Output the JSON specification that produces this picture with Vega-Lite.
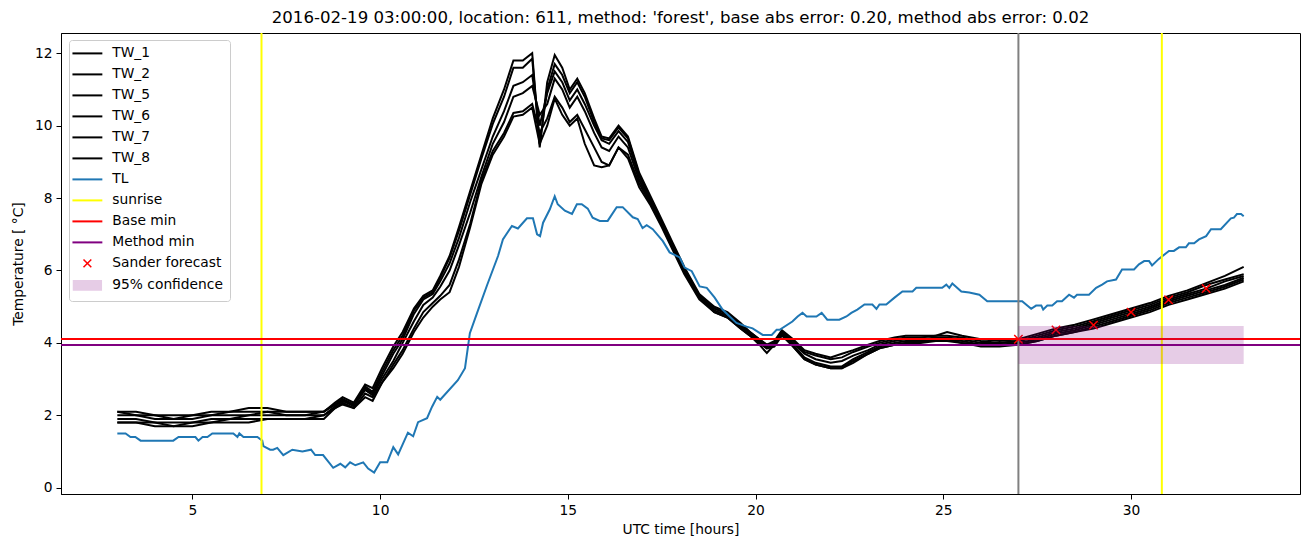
{
  "$schema": "https://vega.github.io/schema/vega-lite/v6.json",
  "autosize": {"type": "none"},
  "padding": {"left": 61, "top": 33, "right": 10, "bottom": 53},
  "width": 1239,
  "height": 461,
  "title": {"text": "2016-02-19 03:00:00, location: 611, method: 'forest', base abs error: 0.20, method abs error: 0.02", "fontSize": 16.6, "fontWeight": "normal", "font": "DejaVu Sans", "color": "black", "offset": 5, "anchor": "middle"},
  "config": {
    "font": "DejaVu Sans",
    "view": {"stroke": "black", "strokeWidth": 1},
    "axis": {"grid": false, "domainColor": "black", "tickColor": "black", "labelColor": "black", "titleColor": "black", "tickSize": 5, "labelFontSize": 13.8, "titleFontSize": 13.8, "titleFontWeight": "normal", "labelPadding": 4, "labelFont": "DejaVu Sans", "titleFont": "DejaVu Sans"}
  },
  "datasets": {
    "tw": [
      {"t": 3.0, "TW_1": 2.1, "TW_2": 2.1, "TW_5": 2.0, "TW_6": 1.9, "TW_7": 1.8, "TW_8": 1.8},
      {"t": 3.5, "TW_1": 2.1, "TW_2": 2.0, "TW_5": 2.0, "TW_6": 1.9, "TW_7": 1.8, "TW_8": 1.8},
      {"t": 4.0, "TW_1": 2.0, "TW_2": 2.0, "TW_5": 1.9, "TW_6": 1.8, "TW_7": 1.8, "TW_8": 1.7},
      {"t": 4.5, "TW_1": 2.0, "TW_2": 1.9, "TW_5": 1.9, "TW_6": 1.8, "TW_7": 1.7, "TW_8": 1.7},
      {"t": 5.0, "TW_1": 2.0, "TW_2": 2.0, "TW_5": 1.9, "TW_6": 1.8, "TW_7": 1.8, "TW_8": 1.7},
      {"t": 5.5, "TW_1": 2.1, "TW_2": 2.0, "TW_5": 2.0, "TW_6": 1.9, "TW_7": 1.8, "TW_8": 1.8},
      {"t": 6.0, "TW_1": 2.1, "TW_2": 2.1, "TW_5": 2.0, "TW_6": 1.9, "TW_7": 1.9, "TW_8": 1.8},
      {"t": 6.5, "TW_1": 2.2, "TW_2": 2.1, "TW_5": 2.0, "TW_6": 2.0, "TW_7": 1.9, "TW_8": 1.8},
      {"t": 7.0, "TW_1": 2.2, "TW_2": 2.1, "TW_5": 2.1, "TW_6": 2.0, "TW_7": 1.9, "TW_8": 1.9},
      {"t": 7.5, "TW_1": 2.1, "TW_2": 2.1, "TW_5": 2.0, "TW_6": 2.0, "TW_7": 1.9, "TW_8": 1.9},
      {"t": 8.0, "TW_1": 2.1, "TW_2": 2.1, "TW_5": 2.0, "TW_6": 2.0, "TW_7": 1.9, "TW_8": 1.9},
      {"t": 8.5, "TW_1": 2.1, "TW_2": 2.1, "TW_5": 2.1, "TW_6": 2.0, "TW_7": 2.0, "TW_8": 1.9},
      {"t": 8.8, "TW_1": 2.35, "TW_2": 2.3, "TW_5": 2.3, "TW_6": 2.25, "TW_7": 2.2, "TW_8": 2.2},
      {"t": 9.0, "TW_1": 2.5, "TW_2": 2.45, "TW_5": 2.4, "TW_6": 2.4, "TW_7": 2.35, "TW_8": 2.3},
      {"t": 9.3, "TW_1": 2.35, "TW_2": 2.3, "TW_5": 2.3, "TW_6": 2.25, "TW_7": 2.2, "TW_8": 2.2},
      {"t": 9.6, "TW_1": 2.85, "TW_2": 2.8, "TW_5": 2.75, "TW_6": 2.7, "TW_7": 2.6, "TW_8": 2.5},
      {"t": 9.8, "TW_1": 2.75, "TW_2": 2.65, "TW_5": 2.6, "TW_6": 2.55, "TW_7": 2.5, "TW_8": 2.4},
      {"t": 10.05, "TW_1": 3.3, "TW_2": 3.2, "TW_5": 3.1, "TW_6": 3.0, "TW_7": 2.9, "TW_8": 2.9},
      {"t": 10.35, "TW_1": 3.9, "TW_2": 3.8, "TW_5": 3.7, "TW_6": 3.5, "TW_7": 3.4, "TW_8": 3.3},
      {"t": 10.6, "TW_1": 4.3, "TW_2": 4.2, "TW_5": 4.1, "TW_6": 4.0, "TW_7": 3.8, "TW_8": 3.7},
      {"t": 10.9, "TW_1": 4.95, "TW_2": 4.9, "TW_5": 4.8, "TW_6": 4.6, "TW_7": 4.4, "TW_8": 4.3},
      {"t": 11.15, "TW_1": 5.3, "TW_2": 5.25, "TW_5": 5.2, "TW_6": 5.05, "TW_7": 4.85, "TW_8": 4.7},
      {"t": 11.4, "TW_1": 5.45, "TW_2": 5.4, "TW_5": 5.35, "TW_6": 5.25, "TW_7": 5.1, "TW_8": 5.0},
      {"t": 11.6, "TW_1": 5.85, "TW_2": 5.8, "TW_5": 5.7, "TW_6": 5.55, "TW_7": 5.3, "TW_8": 5.2},
      {"t": 11.85, "TW_1": 6.4, "TW_2": 6.35, "TW_5": 6.2, "TW_6": 6.0, "TW_7": 5.6, "TW_8": 5.4},
      {"t": 12.1, "TW_1": 7.2, "TW_2": 7.1, "TW_5": 6.9, "TW_6": 6.7, "TW_7": 6.3, "TW_8": 6.1},
      {"t": 12.4, "TW_1": 8.2, "TW_2": 8.1, "TW_5": 7.9, "TW_6": 7.6, "TW_7": 7.3, "TW_8": 7.2},
      {"t": 12.7, "TW_1": 9.2, "TW_2": 9.1, "TW_5": 8.8, "TW_6": 8.6, "TW_7": 8.5, "TW_8": 8.4},
      {"t": 13.0, "TW_1": 10.2, "TW_2": 10.05, "TW_5": 9.7, "TW_6": 9.5, "TW_7": 9.3, "TW_8": 9.2},
      {"t": 13.3, "TW_1": 11.0, "TW_2": 10.8, "TW_5": 10.4, "TW_6": 10.1, "TW_7": 9.8, "TW_8": 9.7},
      {"t": 13.55, "TW_1": 11.8, "TW_2": 11.6, "TW_5": 11.1, "TW_6": 10.8, "TW_7": 10.35, "TW_8": 10.25},
      {"t": 13.8, "TW_1": 11.8, "TW_2": 11.6, "TW_5": 11.2, "TW_6": 10.9, "TW_7": 10.4, "TW_8": 10.3},
      {"t": 14.05, "TW_1": 12.0, "TW_2": 11.85, "TW_5": 11.4, "TW_6": 11.1, "TW_7": 10.6, "TW_8": 10.5},
      {"t": 14.25, "TW_1": 9.4, "TW_2": 9.5, "TW_5": 10.0, "TW_6": 10.3, "TW_7": 9.8, "TW_8": 9.5},
      {"t": 14.45, "TW_1": 11.2, "TW_2": 11.0, "TW_5": 10.9, "TW_6": 10.6, "TW_7": 10.2, "TW_8": 10.0},
      {"t": 14.65, "TW_1": 11.95, "TW_2": 11.7, "TW_5": 11.5, "TW_6": 11.3, "TW_7": 10.8, "TW_8": 10.75},
      {"t": 14.85, "TW_1": 11.6, "TW_2": 11.4, "TW_5": 11.2, "TW_6": 11.0, "TW_7": 10.5, "TW_8": 10.3},
      {"t": 15.05, "TW_1": 11.0, "TW_2": 10.9, "TW_5": 10.7, "TW_6": 10.5, "TW_7": 10.1, "TW_8": 10.0},
      {"t": 15.25, "TW_1": 11.3, "TW_2": 11.2, "TW_5": 11.0, "TW_6": 10.8, "TW_7": 10.3, "TW_8": 10.2},
      {"t": 15.45, "TW_1": 10.9, "TW_2": 10.8, "TW_5": 10.6, "TW_6": 10.4, "TW_7": 9.9, "TW_8": 9.5},
      {"t": 15.7, "TW_1": 10.2, "TW_2": 10.1, "TW_5": 10.0, "TW_6": 9.8, "TW_7": 9.4, "TW_8": 8.9},
      {"t": 15.9, "TW_1": 9.7, "TW_2": 9.65, "TW_5": 9.6, "TW_6": 9.4, "TW_7": 9.0, "TW_8": 8.85},
      {"t": 16.1, "TW_1": 9.65, "TW_2": 9.6, "TW_5": 9.5, "TW_6": 9.3, "TW_7": 8.9, "TW_8": 8.9},
      {"t": 16.35, "TW_1": 10.0, "TW_2": 9.95, "TW_5": 9.85, "TW_6": 9.7, "TW_7": 9.4, "TW_8": 9.4},
      {"t": 16.6, "TW_1": 9.7, "TW_2": 9.65, "TW_5": 9.55, "TW_6": 9.4, "TW_7": 9.2, "TW_8": 9.1},
      {"t": 16.9, "TW_1": 8.7, "TW_2": 8.65, "TW_5": 8.6, "TW_6": 8.5, "TW_7": 8.4, "TW_8": 8.3},
      {"t": 17.2, "TW_1": 8.05, "TW_2": 8.0, "TW_5": 7.95, "TW_6": 7.9, "TW_7": 7.85, "TW_8": 7.8},
      {"t": 17.5, "TW_1": 7.4, "TW_2": 7.35, "TW_5": 7.3, "TW_6": 7.3, "TW_7": 7.25, "TW_8": 7.2},
      {"t": 17.8, "TW_1": 6.75, "TW_2": 6.7, "TW_5": 6.65, "TW_6": 6.65, "TW_7": 6.6, "TW_8": 6.55},
      {"t": 18.1, "TW_1": 6.1, "TW_2": 6.05, "TW_5": 6.05, "TW_6": 6.0, "TW_7": 5.95, "TW_8": 5.9},
      {"t": 18.5, "TW_1": 5.35, "TW_2": 5.3, "TW_5": 5.3, "TW_6": 5.25, "TW_7": 5.25, "TW_8": 5.2},
      {"t": 18.9, "TW_1": 5.0, "TW_2": 4.95, "TW_5": 4.95, "TW_6": 4.9, "TW_7": 4.85, "TW_8": 4.85},
      {"t": 19.25, "TW_1": 4.85, "TW_2": 4.8, "TW_5": 4.8, "TW_6": 4.75, "TW_7": 4.7, "TW_8": 4.7},
      {"t": 19.6, "TW_1": 4.55, "TW_2": 4.5, "TW_5": 4.5, "TW_6": 4.45, "TW_7": 4.4, "TW_8": 4.4},
      {"t": 19.85, "TW_1": 4.3, "TW_2": 4.3, "TW_5": 4.25, "TW_6": 4.25, "TW_7": 4.2, "TW_8": 4.2},
      {"t": 20.1, "TW_1": 4.1, "TW_2": 4.1, "TW_5": 4.05, "TW_6": 4.0, "TW_7": 4.0, "TW_8": 3.95},
      {"t": 20.3, "TW_1": 3.95, "TW_2": 3.95, "TW_5": 3.9, "TW_6": 3.85, "TW_7": 3.85, "TW_8": 3.72},
      {"t": 20.5, "TW_1": 4.05, "TW_2": 4.0, "TW_5": 4.0, "TW_6": 3.95, "TW_7": 3.9, "TW_8": 3.95},
      {"t": 20.7, "TW_1": 4.35, "TW_2": 4.3, "TW_5": 4.3, "TW_6": 4.25, "TW_7": 4.2, "TW_8": 4.3},
      {"t": 21.0, "TW_1": 4.1, "TW_2": 4.05, "TW_5": 4.0, "TW_6": 3.95, "TW_7": 3.9, "TW_8": 3.9},
      {"t": 21.3, "TW_1": 3.8, "TW_2": 3.75, "TW_5": 3.7, "TW_6": 3.6, "TW_7": 3.55, "TW_8": 3.55},
      {"t": 21.6, "TW_1": 3.7, "TW_2": 3.65, "TW_5": 3.55, "TW_6": 3.45, "TW_7": 3.4, "TW_8": 3.4},
      {"t": 22.0, "TW_1": 3.6, "TW_2": 3.55, "TW_5": 3.45, "TW_6": 3.35, "TW_7": 3.3, "TW_8": 3.3},
      {"t": 22.3, "TW_1": 3.7, "TW_2": 3.6, "TW_5": 3.5, "TW_6": 3.35, "TW_7": 3.3, "TW_8": 3.3},
      {"t": 22.6, "TW_1": 3.8, "TW_2": 3.75, "TW_5": 3.65, "TW_6": 3.55, "TW_7": 3.5, "TW_8": 3.45},
      {"t": 23.0, "TW_1": 3.95, "TW_2": 3.9, "TW_5": 3.8, "TW_6": 3.75, "TW_7": 3.7, "TW_8": 3.7},
      {"t": 23.3, "TW_1": 4.05, "TW_2": 4.0, "TW_5": 3.95, "TW_6": 3.9, "TW_7": 3.85, "TW_8": 3.85},
      {"t": 23.7, "TW_1": 4.15, "TW_2": 4.1, "TW_5": 4.05, "TW_6": 4.0, "TW_7": 3.95, "TW_8": 3.95},
      {"t": 24.0, "TW_1": 4.2, "TW_2": 4.15, "TW_5": 4.1, "TW_6": 4.05, "TW_7": 4.0, "TW_8": 4.0},
      {"t": 24.4, "TW_1": 4.2, "TW_2": 4.15, "TW_5": 4.1, "TW_6": 4.05, "TW_7": 4.05, "TW_8": 4.0},
      {"t": 24.8, "TW_1": 4.2, "TW_2": 4.2, "TW_5": 4.15, "TW_6": 4.1, "TW_7": 4.05, "TW_8": 4.05},
      {"t": 25.1, "TW_1": 4.3, "TW_2": 4.2, "TW_5": 4.15, "TW_6": 4.1, "TW_7": 4.1, "TW_8": 4.05},
      {"t": 25.5, "TW_1": 4.2, "TW_2": 4.15, "TW_5": 4.1, "TW_6": 4.05, "TW_7": 4.0, "TW_8": 4.0},
      {"t": 26.0, "TW_1": 4.1, "TW_2": 4.05, "TW_5": 4.0, "TW_6": 3.95, "TW_7": 3.95, "TW_8": 3.9},
      {"t": 26.5, "TW_1": 4.05, "TW_2": 4.0, "TW_5": 4.0, "TW_6": 3.95, "TW_7": 3.95, "TW_8": 3.9},
      {"t": 27.0, "TW_1": 4.1, "TW_2": 4.05, "TW_5": 4.05, "TW_6": 4.0, "TW_7": 3.95, "TW_8": 3.95},
      {"t": 27.5, "TW_1": 4.25, "TW_2": 4.2, "TW_5": 4.15, "TW_6": 4.1, "TW_7": 4.05, "TW_8": 4.05},
      {"t": 28.0, "TW_1": 4.4, "TW_2": 4.35, "TW_5": 4.3, "TW_6": 4.25, "TW_7": 4.2, "TW_8": 4.2},
      {"t": 28.5, "TW_1": 4.5, "TW_2": 4.45, "TW_5": 4.4, "TW_6": 4.35, "TW_7": 4.3, "TW_8": 4.3},
      {"t": 29.0, "TW_1": 4.65, "TW_2": 4.6, "TW_5": 4.55, "TW_6": 4.5, "TW_7": 4.45, "TW_8": 4.4},
      {"t": 29.5, "TW_1": 4.8, "TW_2": 4.75, "TW_5": 4.7, "TW_6": 4.65, "TW_7": 4.6, "TW_8": 4.55},
      {"t": 30.0, "TW_1": 4.95, "TW_2": 4.9, "TW_5": 4.85, "TW_6": 4.8, "TW_7": 4.75, "TW_8": 4.7},
      {"t": 30.5, "TW_1": 5.1, "TW_2": 5.05, "TW_5": 5.0, "TW_6": 4.95, "TW_7": 4.9, "TW_8": 4.85},
      {"t": 31.0, "TW_1": 5.3, "TW_2": 5.25, "TW_5": 5.2, "TW_6": 5.15, "TW_7": 5.1, "TW_8": 5.05},
      {"t": 31.5, "TW_1": 5.45, "TW_2": 5.4, "TW_5": 5.35, "TW_6": 5.3, "TW_7": 5.25, "TW_8": 5.2},
      {"t": 32.0, "TW_1": 5.65, "TW_2": 5.6, "TW_5": 5.5, "TW_6": 5.45, "TW_7": 5.4, "TW_8": 5.35},
      {"t": 32.5, "TW_1": 5.85, "TW_2": 5.75, "TW_5": 5.7, "TW_6": 5.6, "TW_7": 5.55, "TW_8": 5.5},
      {"t": 33.0, "TW_1": 6.1, "TW_2": 5.9, "TW_5": 5.85, "TW_6": 5.8, "TW_7": 5.75, "TW_8": 5.7}
    ],
    "tl": [
      {"t": 3.0, "temp": 1.5}, {"t": 3.22, "temp": 1.5}, {"t": 3.35, "temp": 1.4}, {"t": 3.48, "temp": 1.4}, {"t": 3.62, "temp": 1.3},
      {"t": 4.49, "temp": 1.3}, {"t": 4.63, "temp": 1.4}, {"t": 5.08, "temp": 1.4}, {"t": 5.16, "temp": 1.3}, {"t": 5.27, "temp": 1.4},
      {"t": 5.4, "temp": 1.4}, {"t": 5.53, "temp": 1.5}, {"t": 6.09, "temp": 1.5}, {"t": 6.2, "temp": 1.4}, {"t": 6.25, "temp": 1.5},
      {"t": 6.36, "temp": 1.4}, {"t": 6.73, "temp": 1.4}, {"t": 6.86, "temp": 1.3}, {"t": 6.89, "temp": 1.15}, {"t": 7.07, "temp": 1.05},
      {"t": 7.15, "temp": 1.05}, {"t": 7.26, "temp": 1.1}, {"t": 7.42, "temp": 0.9}, {"t": 7.66, "temp": 1.05}, {"t": 7.93, "temp": 1.0},
      {"t": 8.16, "temp": 1.05}, {"t": 8.27, "temp": 0.9}, {"t": 8.48, "temp": 0.9}, {"t": 8.75, "temp": 0.55}, {"t": 8.94, "temp": 0.66},
      {"t": 9.07, "temp": 0.56}, {"t": 9.2, "temp": 0.7}, {"t": 9.34, "temp": 0.62}, {"t": 9.55, "temp": 0.7}, {"t": 9.68, "temp": 0.53},
      {"t": 9.84, "temp": 0.42}, {"t": 10.0, "temp": 0.7}, {"t": 10.19, "temp": 0.7}, {"t": 10.35, "temp": 1.12}, {"t": 10.48, "temp": 0.92},
      {"t": 10.74, "temp": 1.52}, {"t": 10.88, "temp": 1.42}, {"t": 11.01, "temp": 1.81}, {"t": 11.25, "temp": 1.92}, {"t": 11.38, "temp": 2.23},
      {"t": 11.52, "temp": 2.51}, {"t": 11.6, "temp": 2.43}, {"t": 12.07, "temp": 2.97}, {"t": 12.26, "temp": 3.3}, {"t": 12.39, "temp": 4.27},
      {"t": 12.58, "temp": 4.82}, {"t": 12.85, "temp": 5.6}, {"t": 13.14, "temp": 6.4}, {"t": 13.27, "temp": 6.86}, {"t": 13.51, "temp": 7.23},
      {"t": 13.67, "temp": 7.16}, {"t": 13.91, "temp": 7.44}, {"t": 14.07, "temp": 7.44}, {"t": 14.18, "temp": 7.0}, {"t": 14.26, "temp": 6.95},
      {"t": 14.34, "temp": 7.32}, {"t": 14.52, "temp": 7.69}, {"t": 14.65, "temp": 8.05}, {"t": 14.73, "temp": 7.83}, {"t": 14.92, "temp": 7.65},
      {"t": 15.11, "temp": 7.56}, {"t": 15.24, "temp": 7.83}, {"t": 15.37, "temp": 7.83}, {"t": 15.53, "temp": 7.71}, {"t": 15.66, "temp": 7.46},
      {"t": 15.85, "temp": 7.37}, {"t": 16.06, "temp": 7.37}, {"t": 16.3, "temp": 7.75}, {"t": 16.46, "temp": 7.75}, {"t": 16.73, "temp": 7.47},
      {"t": 16.86, "temp": 7.42}, {"t": 16.99, "temp": 7.17}, {"t": 17.1, "temp": 7.25}, {"t": 17.26, "temp": 7.14}, {"t": 17.53, "temp": 6.81},
      {"t": 17.71, "temp": 6.5}, {"t": 17.98, "temp": 6.36}, {"t": 18.11, "temp": 6.08}, {"t": 18.3, "temp": 5.98}, {"t": 18.51, "temp": 5.56},
      {"t": 18.7, "temp": 5.52}, {"t": 18.91, "temp": 5.25}, {"t": 19.12, "temp": 4.92}, {"t": 19.31, "temp": 4.73}, {"t": 19.49, "temp": 4.55},
      {"t": 19.76, "temp": 4.45}, {"t": 19.92, "temp": 4.4}, {"t": 20.19, "temp": 4.22}, {"t": 20.43, "temp": 4.22}, {"t": 20.56, "temp": 4.36},
      {"t": 20.64, "temp": 4.36}, {"t": 20.98, "temp": 4.59}, {"t": 21.12, "temp": 4.73}, {"t": 21.25, "temp": 4.83}, {"t": 21.36, "temp": 4.73},
      {"t": 21.62, "temp": 4.73}, {"t": 21.76, "temp": 4.83}, {"t": 21.91, "temp": 4.64}, {"t": 22.23, "temp": 4.64}, {"t": 22.42, "temp": 4.73},
      {"t": 22.55, "temp": 4.83}, {"t": 22.71, "temp": 4.92}, {"t": 22.9, "temp": 5.06}, {"t": 23.11, "temp": 5.06}, {"t": 23.22, "temp": 4.94},
      {"t": 23.3, "temp": 5.06}, {"t": 23.48, "temp": 5.06}, {"t": 23.7, "temp": 5.25}, {"t": 23.91, "temp": 5.42}, {"t": 24.18, "temp": 5.42},
      {"t": 24.28, "temp": 5.52}, {"t": 24.97, "temp": 5.52}, {"t": 25.08, "temp": 5.61}, {"t": 25.16, "temp": 5.52}, {"t": 25.24, "temp": 5.64},
      {"t": 25.48, "temp": 5.42}, {"t": 25.69, "temp": 5.39}, {"t": 25.96, "temp": 5.33}, {"t": 26.17, "temp": 5.15}, {"t": 27.1, "temp": 5.15},
      {"t": 27.34, "temp": 4.94}, {"t": 27.47, "temp": 5.03}, {"t": 27.61, "temp": 5.03}, {"t": 27.66, "temp": 4.92}, {"t": 27.77, "temp": 5.03},
      {"t": 27.9, "temp": 5.03}, {"t": 28.03, "temp": 5.15}, {"t": 28.16, "temp": 5.15}, {"t": 28.35, "temp": 5.33}, {"t": 28.48, "temp": 5.25},
      {"t": 28.56, "temp": 5.33}, {"t": 28.88, "temp": 5.33}, {"t": 29.07, "temp": 5.52}, {"t": 29.23, "temp": 5.61}, {"t": 29.36, "temp": 5.7},
      {"t": 29.6, "temp": 5.75}, {"t": 29.76, "temp": 6.03}, {"t": 30.08, "temp": 6.03}, {"t": 30.21, "temp": 6.17}, {"t": 30.35, "temp": 6.26},
      {"t": 30.48, "temp": 6.26}, {"t": 30.56, "temp": 6.14}, {"t": 30.74, "temp": 6.32}, {"t": 31.01, "temp": 6.54}, {"t": 31.14, "temp": 6.54},
      {"t": 31.28, "temp": 6.64}, {"t": 31.46, "temp": 6.64}, {"t": 31.54, "temp": 6.75}, {"t": 31.68, "temp": 6.75}, {"t": 31.81, "temp": 6.86},
      {"t": 32.0, "temp": 6.95}, {"t": 32.13, "temp": 7.14}, {"t": 32.39, "temp": 7.14}, {"t": 32.66, "temp": 7.44}, {"t": 32.74, "temp": 7.46},
      {"t": 32.82, "temp": 7.56}, {"t": 32.93, "temp": 7.56}, {"t": 33.0, "temp": 7.5}
    ],
    "sunrise": [{"t": 6.84, "series": "sunrise"}, {"t": 30.82, "series": "sunrise"}],
    "mins": [{"temp": 4.11, "series": "Base min"}, {"temp": 3.94, "series": "Method min"}],
    "now": [{"t": 27.0}],
    "sander": [
      {"t": 27.0, "temp": 4.1, "series": "Sander forecast"},
      {"t": 28.0, "temp": 4.36, "series": "Sander forecast"},
      {"t": 29.0, "temp": 4.49, "series": "Sander forecast"},
      {"t": 30.0, "temp": 4.85, "series": "Sander forecast"},
      {"t": 31.0, "temp": 5.19, "series": "Sander forecast"},
      {"t": 32.0, "temp": 5.5, "series": "Sander forecast"}
    ],
    "conf": [{"t": 27.0, "t2": 33.0, "lo": 3.42, "hi": 4.47}]
  },
  "layer": [
    {
      "data": {"name": "tw"},
      "transform": [{"fold": ["TW_1", "TW_2", "TW_5", "TW_6", "TW_7", "TW_8"], "as": ["series", "temp"]}],
      "mark": {"type": "line", "strokeWidth": 2, "clip": true},
      "encoding": {
        "x": {"field": "t", "type": "quantitative", "scale": {"domain": [1.5, 34.5], "nice": false, "zero": false}, "axis": {"values": [5, 10, 15, 20, 25, 30], "title": "UTC time [hours]", "titlePadding": 6}},
        "y": {"field": "temp", "type": "quantitative", "scale": {"domain": [-0.174, 12.56], "nice": false, "zero": false}, "axis": {"values": [0, 2, 4, 6, 8, 10, 12], "title": "Temperature [ °C]", "titlePadding": 9}},
        "detail": {"field": "series"},
        "color": {
          "field": "series", "type": "nominal",
          "scale": {
            "domain": ["TW_1", "TW_2", "TW_5", "TW_6", "TW_7", "TW_8", "TL", "sunrise", "Base min", "Method min", "Sander forecast", "95% confidence"],
            "range": ["#000000", "#000000", "#000000", "#000000", "#000000", "#000000", "#1f77b4", "#ffff00", "#ff0000", "#800080", "#ff0000", "#e6cce6"]
          },
          "legend": {
            "title": null,
            "orient": "none",
            "legendX": 8,
            "legendY": 7,
            "direction": "vertical",
            "fillColor": "rgba(255,255,255,0.8)",
            "strokeColor": "#cccccc",
            "cornerRadius": 3,
            "padding": 6.5,
            "symbolSize": 169,
            "symbolOffset": 5,
            "labelOffset": 18,
            "rowPadding": 6,
            "labelFontSize": 13.8,
            "labelFont": "DejaVu Sans",
            "labelColor": "black",
            "symbolType": "stroke",
            "encode": {
              "symbols": {
                "update": {
                  "shape": {"signal": "datum.value === 'Sander forecast' ? 'M-0.6,-0.6L0.6,0.6M0.6,-0.6L-0.6,0.6' : datum.value === '95% confidence' ? 'M-2.1,-0.67H2.1V0.67H-2.1Z' : 'M-2.3,0H2.3'"},
                  "fill": {"signal": "datum.value === '95% confidence' ? '#e6cce6' : 'transparent'"},
                  "stroke": {"signal": "datum.value === '95% confidence' ? 'transparent' : scale('color', datum.value)"},
                  "strokeWidth": {"signal": "datum.value === 'Sander forecast' ? 1.5 : 2"},
                  "opacity": {"value": 1}
                }
              }
            }
          }
        }
      }
    },
    {
      "data": {"name": "tl"},
      "mark": {"type": "line", "strokeWidth": 2, "clip": true},
      "encoding": {
        "x": {"field": "t", "type": "quantitative"},
        "y": {"field": "temp", "type": "quantitative"},
        "color": {"datum": "TL", "type": "nominal"}
      }
    },
    {
      "data": {"name": "sunrise"},
      "mark": {"type": "rule", "strokeWidth": 2},
      "encoding": {
        "x": {"field": "t", "type": "quantitative"},
        "color": {"field": "series", "type": "nominal"}
      }
    },
    {
      "data": {"name": "mins"},
      "mark": {"type": "rule", "strokeWidth": 2},
      "encoding": {
        "y": {"field": "temp", "type": "quantitative"},
        "color": {"field": "series", "type": "nominal"}
      }
    },
    {
      "data": {"name": "now"},
      "mark": {"type": "rule", "strokeWidth": 2, "color": "#808080"},
      "encoding": {
        "x": {"field": "t", "type": "quantitative"}
      }
    },
    {
      "data": {"name": "sander"},
      "mark": {"type": "point", "shape": "M-1,-1L1,1M1,-1L-1,1", "size": 70, "filled": false, "strokeWidth": 1.5, "opacity": 1},
      "encoding": {
        "x": {"field": "t", "type": "quantitative"},
        "y": {"field": "temp", "type": "quantitative"},
        "color": {"field": "series", "type": "nominal"}
      }
    },
    {
      "data": {"name": "conf"},
      "mark": {"type": "rect", "fill": "#800080", "opacity": 0.2},
      "encoding": {
        "x": {"field": "t", "type": "quantitative"},
        "x2": {"field": "t2"},
        "y": {"field": "lo", "type": "quantitative"},
        "y2": {"field": "hi"}
      }
    }
  ]
}
